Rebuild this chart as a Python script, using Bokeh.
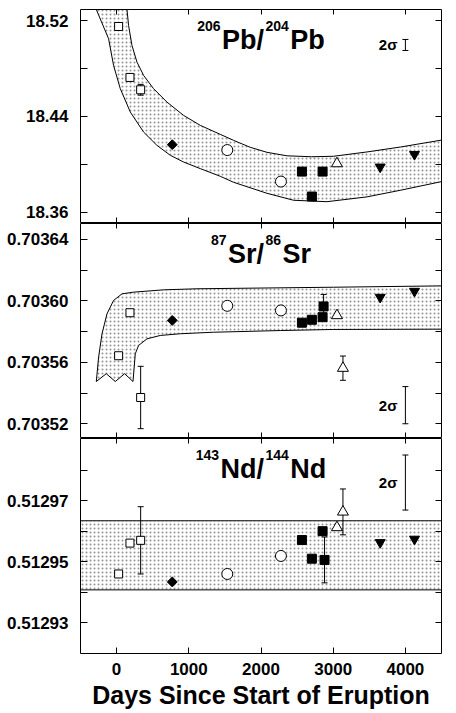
from bokeh.plotting import figure
from bokeh.layouts import column
from bokeh.models import LinearAxis, FixedTicker, Range1d, Label
from bokeh.embed import file_html
from bokeh.resources import INLINE

FONT = "Liberation Sans"

# ---------------- data ----------------
x_range_days = (-500, 4500)
x_ticks = [0, 1000, 2000, 3000, 4000]
x_tick_labels = ["0", "1000", "2000", "3000", "4000"]
x_title = "Days Since Start of Eruption"

# sample times (days since start of eruption)
open_sq_days = [28, 185, 333]
diamond_days = [771]
open_circ_days = [1533, 2276]
fill_sq_days_pb = [2567, 2705, 2853]
fill_sq_days_sr = [2567, 2705, 2853, 2867]
fill_sq_days_nd = [2567, 2705, 2853, 2880]
open_tri_days_pb = [3052]
open_tri_days_sr = [3052, 3135]
open_tri_days_nd = [3052, 3135]
fill_tri_days = [3651, 4126]
sigma_day = [4000]

# ---- 206Pb/204Pb ----
pb_range = (18.3506, 18.5292)
pb_ticks = [18.36, 18.40, 18.44, 18.48, 18.52]
pb_tick_labels = ["18.36", "", "18.44", "", "18.52"]
pb_open_sq = [18.515, 18.4725, 18.4622]
pb_diamond = [18.4164]
pb_open_circ = [18.4119, 18.3856]
pb_fill_sq = [18.3939, 18.3731, 18.3939]
pb_open_tri = [18.4006]
pb_fill_tri = [18.3978, 18.4083]
pb_err_days = [333]
pb_err_val = [18.4622]
pb_err = [0.0045]
pb_sigma_center = [18.4996]
pb_sigma_half = [0.0046]
pb_band_up_days = [127, 144, 166, 213, 282, 374, 512, 698, 928, 1159, 1436, 1620,
                   1850, 2083, 2359, 2700, 3005, 3467, 3928, 4520]
pb_band_up_val = [18.5408, 18.5292, 18.5158, 18.4992, 18.4853, 18.4742, 18.4631,
                  18.4519, 18.4408, 18.4325, 18.4250, 18.4200, 18.4142, 18.4100,
                  18.4071, 18.4063, 18.4067, 18.4103, 18.4144, 18.4204]
pb_band_lo_days = [-309, -281, -111, -42, 51, 190, 374, 559, 744, 928, 1159, 1436,
                   1620, 2083, 2451, 2913, 3467, 3928, 4520]
pb_band_lo_val = [18.5408, 18.5292, 18.5048, 18.4825, 18.4631, 18.4436, 18.4269,
                  18.4158, 18.4075, 18.4019, 18.3964, 18.3900, 18.3850, 18.3758,
                  18.3700, 18.3688, 18.3728, 18.3783, 18.3858]

# ---- 87Sr/86Sr ----
sr_range = (0.7035104, 0.7036504)
sr_ticks = [0.70352, 0.70354, 0.70356, 0.70358, 0.70360, 0.70362, 0.70364]
sr_tick_labels = ["0.70352", "", "0.70356", "", "0.70360", "", "0.70364"]
sr_open_sq = [0.7035643, 0.7035923, 0.7035371]
sr_diamond = [0.7035873]
sr_open_circ = [0.7035968, 0.7035938]
sr_fill_sq = [0.7035858, 0.7035877, 0.7035894, 0.7035964]
sr_open_tri = [0.7035905, 0.7035562]
sr_fill_tri = [0.7036024, 0.7036063]
sr_err_days = [333, 2867, 3135]
sr_err_val = [0.7035371, 0.7035964, 0.7035562]
sr_err = [0.0000203, 0.0000078, 0.0000079]
sr_sigma_center = [0.7035321]
sr_sigma_half = [0.0000121]
# band outline: left/upper edge, then lower/right edge back, then the zig-zag base
sr_band_days = [-281, -249, -202, -133, -42, 75, 235, 651, 1113, 3005, 4520,
                4520, 3000, 2267, 1343, 882, 605, 421, 305, 259, 227,
                111, -18, -143]
sr_band_val = [0.7035475, 0.7035634, 0.7035786, 0.7035916, 0.7036003, 0.7036046,
               0.7036057, 0.7036072, 0.7036079, 0.7036089, 0.7036098,
               0.7035816, 0.7035814, 0.7035807, 0.7035796, 0.7035786, 0.7035775,
               0.7035753, 0.7035710, 0.7035656, 0.7035475,
               0.7035526, 0.7035475, 0.7035526]

# ---- 143Nd/144Nd ----
nd_range = (0.51292, 0.5129903)
nd_ticks = [0.51293, 0.51294, 0.51295, 0.51296, 0.51297, 0.51298]
nd_tick_labels = ["0.51293", "", "0.51295", "", "0.51297", ""]
nd_open_sq = [0.5129460, 0.5129561, 0.5129570]
nd_diamond = [0.5129434]
nd_open_circ = [0.5129460, 0.5129519]
nd_fill_sq = [0.5129571, 0.5129510, 0.5129600, 0.5129506]
nd_open_tri = [0.5129612, 0.5129663]
nd_fill_tri = [0.5129563, 0.5129574]
nd_err_days = [333, 2880, 3135]
nd_err_val = [0.5129570, 0.5129506, 0.5129663]
nd_err = [0.0000110, 0.0000075, 0.0000075]
nd_sigma_center = [0.5129759]
nd_sigma_half = [0.0000090]
nd_band_low = 0.5129408
nd_band_high = 0.5129634

# character widths (em) of Liberation Sans Bold, used to set title pieces side by side
CW = {"0": .556, "1": .556, "2": .556, "3": .556, "4": .556, "6": .556, "7": .556,
      "8": .556, "P": .667, "b": .611, "/": .278, "S": .667, "r": .389, "N": .722,
      "d": .611}
MAIN = 27
SUP = 14
GAP = 1.5


def style_axis(ax, tick_in, labels=True):
    ax.major_tick_in = tick_in
    ax.major_tick_out = 0
    ax.minor_tick_line_color = None
    ax.axis_line_color = None
    ax.major_tick_line_color = "black"
    ax.major_tick_line_width = 1
    if labels:
        ax.major_label_text_font = FONT
        ax.major_label_text_font_style = "bold"
        ax.major_label_text_color = "black"
    else:
        ax.major_label_text_color = None
        ax.major_label_text_font_size = "0px"
        ax.major_label_standoff = 0
        ax.axis_label_standoff = 0


def make_panel(yr, yticks, ylabels, frame_h, top, show_x):
    p = figure(frame_width=361, frame_height=frame_h,
               x_range=Range1d(*x_range_days), y_range=Range1d(*yr),
               output_backend="svg", toolbar_location=None,
               min_border_left=80, min_border_right=7, min_border_top=top,
               min_border_bottom=0)
    p.grid.visible = False
    p.outline_line_color = "black"
    p.outline_line_width = 1
    p.background_fill_color = "white"
    p.border_fill_color = "white"

    ya = p.yaxis[0]
    ya.ticker = FixedTicker(ticks=yticks, minor_ticks=[])
    ya.major_label_overrides = dict(zip(yticks, ylabels))
    style_axis(ya, 7)
    ya.major_label_text_font_size = "17px"
    ya.major_label_standoff = 12

    xa = p.xaxis[0]
    xa.ticker = FixedTicker(ticks=x_ticks, minor_ticks=[])
    if show_x:
        xa.major_label_overrides = dict(zip(x_ticks, x_tick_labels))
        style_axis(xa, 6)
        xa.major_label_text_font_size = "17px"
        xa.major_label_standoff = 9
        xa.axis_label = x_title
        xa.axis_label_text_font = FONT
        xa.axis_label_text_font_style = "bold"
        xa.axis_label_text_font_size = "25px"
        xa.axis_label_text_color = "black"
        xa.axis_label_standoff = 3
    else:
        style_axis(xa, 6, labels=False)

    ra = LinearAxis(ticker=FixedTicker(ticks=yticks, minor_ticks=[]))
    style_axis(ra, 6, labels=False)
    p.add_layout(ra, "right")
    ta = LinearAxis(ticker=FixedTicker(ticks=x_ticks, minor_ticks=[]))
    style_axis(ta, 5, labels=False)
    p.add_layout(ta, "above")
    return p


def add_points(p, open_sq, dia, circ, fsq_d, fsq, otri_d, otri, ftri,
               err_d, err_v, err):
    lo = [v - e for v, e in zip(err_v, err)]
    hi = [v + e for v, e in zip(err_v, err)]
    p.segment(x0=err_d, y0=lo, x1=err_d, y1=hi, line_color="black", line_width=1)
    p.scatter(x=err_d + err_d, y=lo + hi, marker="dash", size=6,
              line_color="black", line_width=1)
    p.scatter(x=open_sq_days, y=open_sq, marker="square", size=8,
              fill_color="white", line_color="black", line_width=1)
    p.scatter(x=diamond_days, y=dia, marker="square", angle=0.785398, size=7,
              fill_color="black", line_color="black")
    p.scatter(x=open_circ_days, y=circ, marker="circle", size=11,
              fill_color="white", line_color="black", line_width=1)
    p.scatter(x=fsq_d, y=fsq, marker="square", size=9,
              fill_color="black", line_color="black")
    p.scatter(x=otri_d, y=otri, marker="triangle", size=11,
              fill_color="white", line_color="black", line_width=1)
    p.scatter(x=fill_tri_days, y=ftri, marker="inverted_triangle", size=10,
              fill_color="black", line_color="black")


def add_sigma(p, center, half):
    lo = [c - h for c, h in zip(center, half)]
    hi = [c + h for c, h in zip(center, half)]
    p.segment(x0=sigma_day, y0=lo, x1=sigma_day, y1=hi, line_color="black", line_width=1)
    p.scatter(x=sigma_day + sigma_day, y=lo + hi, marker="dash", size=6,
              line_color="black", line_width=1)
    p.add_layout(Label(x=sigma_day[0], y=center[0], x_offset=-8, text="2σ",
                       text_align="right", text_baseline="middle",
                       text_font=FONT, text_font_style="bold",
                       text_font_size="15px", text_color="black"))


def add_title(p, parts, yr):
    widths = [sum(CW[c] for c in t) * (SUP if s else MAIN) for t, s in parts]
    total = sum(widths) + GAP * (len(parts) - 1)
    off = -total / 2
    for (t, s), w in zip(parts, widths):
        p.add_layout(Label(x=2000, y=yr[1], x_offset=off, y_offset=-16 if s else -30,
                           text=t, text_align="left", text_baseline="alphabetic",
                           text_font=FONT, text_font_style="bold",
                           text_font_size=f"{SUP if s else MAIN}px",
                           text_color="black"))
        off += w + GAP


band_style = dict(fill_color=None, hatch_pattern="dot", hatch_scale=4,
                  hatch_weight=1, hatch_color="black", hatch_alpha=0.42,
                  line_color="black", line_width=1)

# ---------------- Pb panel ----------------
p1 = make_panel(pb_range, pb_ticks, pb_tick_labels, 214, 9, False)
p1.patch(x=pb_band_up_days + pb_band_lo_days[::-1],
         y=pb_band_up_val + pb_band_lo_val[::-1], **band_style)
add_points(p1, pb_open_sq, pb_diamond, pb_open_circ, fill_sq_days_pb, pb_fill_sq,
           open_tri_days_pb, pb_open_tri, pb_fill_tri, pb_err_days, pb_err_val, pb_err)
add_sigma(p1, pb_sigma_center, pb_sigma_half)
add_title(p1, [("206", True), ("Pb/", False), ("204", True), ("Pb", False)], pb_range)

# ---------------- Sr panel ----------------
p2 = make_panel(sr_range, sr_ticks, sr_tick_labels, 215, 0, False)
p2.patch(x=sr_band_days, y=sr_band_val, **band_style)
add_points(p2, sr_open_sq, sr_diamond, sr_open_circ, fill_sq_days_sr, sr_fill_sq,
           open_tri_days_sr, sr_open_tri, sr_fill_tri, sr_err_days, sr_err_val, sr_err)
add_sigma(p2, sr_sigma_center, sr_sigma_half)
add_title(p2, [("87", True), ("Sr/", False), ("86", True), ("Sr", False)], sr_range)

# ---------------- Nd panel ----------------
p3 = make_panel(nd_range, nd_ticks, nd_tick_labels, 215, 0, True)
p3.varea(x=list(x_range_days), y1=[nd_band_low] * 2, y2=[nd_band_high] * 2,
         fill_color=None, hatch_pattern="dot", hatch_scale=4, hatch_weight=1,
         hatch_color="black", hatch_alpha=0.42)
p3.line(x=list(x_range_days), y=[nd_band_low] * 2, line_color="black", line_width=1)
p3.line(x=list(x_range_days), y=[nd_band_high] * 2, line_color="black", line_width=1)
add_points(p3, nd_open_sq, nd_diamond, nd_open_circ, fill_sq_days_nd, nd_fill_sq,
           open_tri_days_nd, nd_open_tri, nd_fill_tri, nd_err_days, nd_err_val, nd_err)
add_sigma(p3, nd_sigma_center, nd_sigma_half)
add_title(p3, [("143", True), ("Nd/", False), ("144", True), ("Nd", False)], nd_range)

layout = column(p1, p2, p3, spacing=0)
open("out.html", "w").write(file_html(layout, INLINE))
